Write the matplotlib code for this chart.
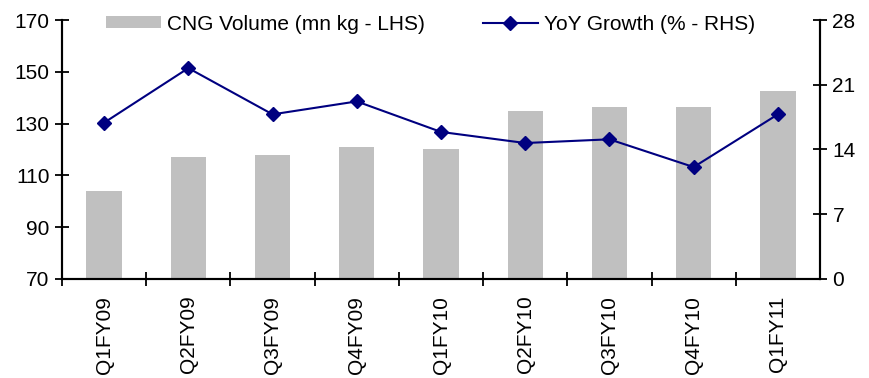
import numpy as np
import matplotlib.pyplot as plt

plt.rcParams['font.family'] = ['Liberation Sans', 'DejaVu Sans']
plt.rcParams['font.size'] = 15

# Квартальні дані
quarters = ['Q1FY09', 'Q2FY09', 'Q3FY09', 'Q4FY09', 'Q1FY10',
            'Q2FY10', 'Q3FY10', 'Q4FY10', 'Q1FY11']
cng_volume = [104.0, 117.2, 118.0, 121.0, 120.3, 135.0, 136.5, 136.5, 142.6]
yoy_growth = [16.9, 22.8, 17.8, 19.2, 15.9, 14.7, 15.1, 12.1, 17.8]

x = np.arange(len(quarters))

fig = plt.figure(figsize=(8.7, 3.78), dpi=100)
ax = fig.add_axes([0.0713, 0.262, 0.8712, 0.685])
ax2 = ax.twinx()

bars = ax.bar(x, cng_volume, width=0.42, color='#c0c0c0', zorder=2,
              label='CNG Volume (mn kg - LHS)')
line, = ax2.plot(x, yoy_growth, color='#000080', lw=1.5, marker='D',
                 markersize=7, label='YoY Growth (% - RHS)')

ax.set_xlim(-0.5, len(quarters) - 0.5)
ax.set_ylim(70, 170)
ax.set_yticks(range(70, 171, 20))
ax2.set_ylim(0, 28)
ax2.set_yticks(range(0, 29, 7))

# Мітки категорій між поділками
ax.set_xticks(x - 0.5, minor=False)
ax.set_xticklabels([])
ax.set_xticks(x, minor=True)
ax.set_xticklabels(quarters, minor=True, rotation=90)
ax.tick_params(axis='x', which='minor', length=0, pad=12)
ax.tick_params(axis='x', which='major', direction='inout', length=10, width=1.3)
ax.tick_params(axis='y', direction='inout', length=10, width=1.3, pad=4)
ax2.tick_params(axis='y', direction='inout', length=10, width=1.3, pad=4)

for a in (ax, ax2):
    a.spines['top'].set_visible(False)
    for s in ('left', 'right', 'bottom'):
        a.spines[s].set_linewidth(1.5)

fig.legend([bars, line], [bars.get_label(), line.get_label()],
           loc='center left', bbox_to_anchor=(106 / 870, 1 - 24 / 378),
           ncol=2, frameon=False, borderpad=0, borderaxespad=0,
           handlelength=2.65, handleheight=0.55, handletextpad=0.3,
           columnspacing=2.75)

fig.savefig('out.png', dpi=100)
